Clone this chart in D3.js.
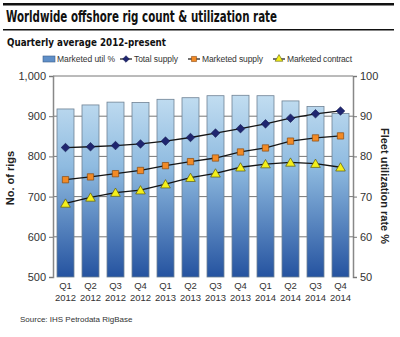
<!DOCTYPE html>
<html>
<head>
<meta charset="utf-8">
<script src="https://cdn.jsdelivr.net/npm/d3@7"></script>
<style>
  body { margin: 0; background: #fff; }
  svg { display: block; font-family: "Liberation Sans", Arial, sans-serif; }
</style>
</head>
<body>
<svg id="chart" width="400" height="337"></svg>
<script>
// data
const quarters = ["Q1", "Q2", "Q3", "Q4", "Q1", "Q2", "Q3", "Q4", "Q1", "Q2", "Q3", "Q4"];
const years = ["2012", "2012", "2012", "2012", "2013", "2013", "2013", "2013", "2014", "2014", "2014", "2014"];
const marketedUtil = [91.8, 92.8, 93.5, 93.4, 94.2, 94.6, 95.1, 95.2, 95.1, 93.8, 92.4, 90.7];
const totalSupply = [822, 824, 827, 831, 838, 847, 858, 869, 881, 895, 906, 913];
const marketedSupply = [742, 749, 757, 765, 777, 787, 796, 811, 821, 838, 846, 851];
const marketedContract = [683, 698, 710, 716, 731, 747, 758, 773, 781, 785, 782, 773];
const leftTicks = [500, 600, 700, 800, 900, 1000];
const rightTicks = [50, 60, 70, 80, 90, 100];

const svg = d3.select("#chart");
const plot = { left: 53, right: 353, top: 76, bottom: 277 };

// header
svg.append("rect").attr("x", 3).attr("y", 3).attr("width", 391).attr("height", 2.5).attr("fill", "#111");
svg.append("rect").attr("x", 3).attr("y", 29).attr("width", 391).attr("height", 1.5).attr("fill", "#111");
svg.append("text")
    .attr("x", 6).attr("y", 22)
    .attr("font-family", "'DejaVu Sans Condensed', 'DejaVu Sans', sans-serif")
    .attr("font-weight", "bold").attr("font-size", 15)
    .attr("textLength", 271).attr("lengthAdjust", "spacingAndGlyphs")
    .attr("fill", "#111")
    .text("Worldwide offshore rig count & utilization rate");
svg.append("text")
    .attr("x", 7).attr("y", 46)
    .attr("font-family", "'DejaVu Sans Condensed', 'DejaVu Sans', sans-serif")
    .attr("font-weight", "bold").attr("font-size", 11)
    .attr("textLength", 159).attr("lengthAdjust", "spacingAndGlyphs")
    .attr("fill", "#111")
    .text("Quarterly average 2012-present");

// scales
const x = d3.scaleBand()
    .domain(d3.range(quarters.length))
    .range([plot.left, plot.right])
    .paddingInner(0.32).paddingOuter(0.16);
const yL = d3.scaleLinear().domain([500, 1000]).range([plot.bottom, plot.top]);
const yR = d3.scaleLinear().domain([50, 100]).range([plot.bottom, plot.top]);

// gradient for bars
const defs = svg.append("defs");
const grad = defs.append("linearGradient")
    .attr("id", "barGrad").attr("gradientUnits", "userSpaceOnUse")
    .attr("x1", 0).attr("x2", 0).attr("y1", plot.top).attr("y2", plot.bottom);
grad.append("stop").attr("offset", "0%").attr("stop-color", "#cfe6f5");
grad.append("stop").attr("offset", "45%").attr("stop-color", "#8fbbe0");
grad.append("stop").attr("offset", "100%").attr("stop-color", "#2553a0");

// gridlines
svg.append("g")
    .selectAll("line")
    .data(leftTicks.slice(1))
    .join("line")
    .attr("x1", plot.left).attr("x2", plot.right)
    .attr("y1", d => yL(d)).attr("y2", d => yL(d))
    .attr("stroke", "#777").attr("stroke-width", 1);

// bars
svg.append("g")
    .selectAll("rect")
    .data(marketedUtil)
    .join("rect")
    .attr("x", (d, i) => x(i))
    .attr("y", d => yR(d))
    .attr("width", x.bandwidth())
    .attr("height", d => yR(50) - yR(d))
    .attr("fill", "url(#barGrad)")
    .attr("stroke", "#6f8294").attr("stroke-width", 0.8);

// axes
const gL = svg.append("g")
    .attr("transform", `translate(${plot.left},0)`)
    .call(d3.axisLeft(yL).tickValues(leftTicks).tickFormat(d3.format(",")).tickSize(4).tickPadding(3));
const gR = svg.append("g")
    .attr("transform", `translate(${plot.right},0)`)
    .call(d3.axisRight(yR).tickValues(rightTicks).tickSize(4).tickPadding(3));
[gL, gR].forEach(g => {
    g.select(".domain").attr("stroke", "#888").attr("stroke-width", 1.5);
    g.selectAll(".tick line").attr("stroke", "#777");
    g.selectAll("text").attr("font-size", 11).attr("fill", "#333")
        .attr("font-family", "'Liberation Sans', Arial, sans-serif");
});

// x labels
const gX = svg.append("g");
gX.selectAll("text.q")
    .data(quarters)
    .join("text")
    .attr("class", "q")
    .attr("x", (d, i) => x(i) + x.bandwidth() / 2)
    .attr("y", 289)
    .attr("text-anchor", "middle").attr("font-size", 9.5).attr("fill", "#333")
    .text(d => d);
gX.selectAll("text.yr")
    .data(years)
    .join("text")
    .attr("class", "yr")
    .attr("x", (d, i) => x(i) + x.bandwidth() / 2)
    .attr("y", 301)
    .attr("text-anchor", "middle").attr("font-size", 9.5).attr("fill", "#333")
    .text(d => d);

// lines + markers
const cx = i => x(i) + x.bandwidth() / 2;
const line = d3.line().x((d, i) => cx(i)).y(d => yL(d));
[totalSupply, marketedSupply, marketedContract].forEach(series => {
    svg.append("path")
        .datum(series)
        .attr("fill", "none")
        .attr("stroke", "#151515")
        .attr("stroke-width", 1.3)
        .attr("d", line);
});

// diamond as a rotated square, square, triangle
const diamond = "M0,-4.3L4.3,0L0,4.3L-4.3,0Z";
const square = d3.symbol().type(d3.symbolSquare).size(40)();
const triangle = d3.symbol().type(d3.symbolTriangle).size(40)();

svg.append("g").selectAll("path")
    .data(totalSupply)
    .join("path")
    .attr("transform", (d, i) => `translate(${cx(i)},${yL(d)})`)
    .attr("d", diamond)
    .attr("fill", "#1f2670").attr("stroke", "#141a50").attr("stroke-width", 0.6);
svg.append("g").selectAll("path")
    .data(marketedSupply)
    .join("path")
    .attr("transform", (d, i) => `translate(${cx(i)},${yL(d)})`)
    .attr("d", square)
    .attr("fill", "#f28a25").attr("stroke", "#8a4a10").attr("stroke-width", 0.7);
svg.append("g").selectAll("path")
    .data(marketedContract)
    .join("path")
    .attr("transform", (d, i) => `translate(${cx(i)},${yL(d) + 1})`)
    .attr("d", triangle)
    .attr("fill", "#f4ef1a").attr("stroke", "#5a5a10").attr("stroke-width", 0.7);

// axis titles
svg.append("text")
    .attr("transform", "translate(14,178) rotate(-90)")
    .attr("text-anchor", "middle").attr("font-weight", "bold").attr("font-size", 11).attr("fill", "#222")
    .text("No. of rigs");
svg.append("text")
    .attr("transform", "translate(381,186) rotate(90)")
    .attr("text-anchor", "middle").attr("font-weight", "bold").attr("font-size", 11).attr("fill", "#222")
    .text("Fleet utilization rate %");

// legend
const legend = svg.append("g").attr("font-size", 8.5).attr("fill", "#333");
const ly = 59;
legend.append("rect").attr("x", 43).attr("y", ly - 3).attr("width", 12).attr("height", 6)
    .attr("fill", "#5f8fc8").attr("stroke", "#3d5f8a").attr("stroke-width", 0.6);
legend.append("text").attr("x", 57).attr("y", ly + 3).attr("textLength", 58).text("Marketed util %");

const legendLines = [
    { x: 120, tx: 134, w: 44, label: "Total supply", sym: "M0,-3.3L3.3,0L0,3.3L-3.3,0Z", fill: "#1f2670", stroke: "#141a50" },
    { x: 188, tx: 202, w: 61, label: "Marketed supply", sym: d3.symbol().type(d3.symbolSquare).size(26)(), fill: "#f28a25", stroke: "#8a4a10" },
    { x: 273, tx: 287, w: 65, label: "Marketed contract", sym: d3.symbol().type(d3.symbolTriangle).size(26)(), fill: "#f4ef1a", stroke: "#5a5a10" }
];
legendLines.forEach(l => {
    legend.append("line").attr("x1", l.x).attr("x2", l.x + 12).attr("y1", ly).attr("y2", ly)
        .attr("stroke", "#151515").attr("stroke-width", 1.2);
    legend.append("path").attr("transform", `translate(${l.x + 6},${ly})`)
        .attr("d", l.sym).attr("fill", l.fill).attr("stroke", l.stroke).attr("stroke-width", 0.6);
    legend.append("text").attr("x", l.tx).attr("y", ly + 3).attr("textLength", l.w).text(l.label);
});

// source
svg.append("text")
    .attr("x", 20).attr("y", 322)
    .attr("font-size", 8).attr("fill", "#333")
    .text("Source: IHS Petrodata RigBase");
</script>
</body>
</html>
